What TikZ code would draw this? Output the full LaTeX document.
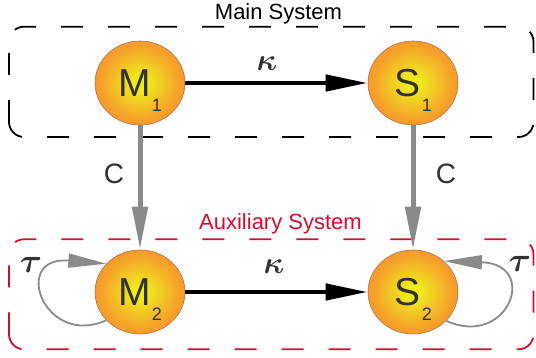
\documentclass[tikz,border=0pt]{standalone}
\usepackage{fontspec}
\setmainfont{Liberation Sans}
\usetikzlibrary{arrows.meta,shapes.geometric}

\definecolor{ballin}{RGB}{238,234,30}
\definecolor{ballmid}{RGB}{246,160,42}
\definecolor{ballout}{RGB}{241,116,44}
\definecolor{ballrim}{RGB}{170,112,90}
\definecolor{textgray}{RGB}{50,50,50}
\definecolor{linkgray}{RGB}{138,138,138}
\definecolor{auxred}{RGB}{204,16,46}
\pgfdeclareradialshading{ballshading}{\pgfpoint{0bp}{0bp}}{color(0bp)=(ballin); color(4bp)=(ballin); color(22bp)=(ballmid); color(46bp)=(ballout); color(60bp)=(ballout)}

\newcommand{\ballname}[2]{\fontsize{39}{39}\selectfont #1\kern1.5pt\smash{\raisebox{-15pt}{\fontsize{18}{18}\selectfont #2}}}
\newcommand{\biggreek}[2]{\scalebox{#1}{\boldmath$#2$}}

\begin{document}
\begin{tikzpicture}[x=1pt, y=1pt, text=textgray,
                    ball/.style={ellipse, draw=ballrim, line width=0.6pt, shading=ballshading,
                                 minimum width=90pt, minimum height=84pt, inner sep=0pt},
                    system box/.style={line width=1.8pt, dash pattern=on 22pt off 25pt, rounded corners=15pt},
                    kappa arrow/.style={line width=4.5pt, -{Triangle[length=42pt,width=16pt]}},
                    coupling arrow/.style={line width=5pt, draw=linkgray, -{Triangle[length=43pt,width=15pt]}},
                    delay arrow/.style={line width=1.8pt, draw=linkgray, -{Triangle[length=38pt,width=14pt]}},
                    title/.style={font=\fontsize{22}{22}\selectfont, anchor=base}]

  \useasboundingbox (0,0) rectangle (536,358);

  % the two systems
  \draw[system box] (9,221) rectangle (533.5,331.3);
  \draw[system box, draw=auxred] (9,8.7) rectangle (533.5,118.7);
  \node[title, text=black] (main) at (278.5,338) {Main System};
  \node[title, text=auxred] (aux) at (280.5,128) {Auxiliary System};

  \node[ball] (M1) at (140,275) {\ballname{M}{1}};
  \node[ball] (S1) [right of=M1, node distance=273pt] {\ballname{S}{1}};
  \node[ball] (M2) [below of=M1, node distance=209pt] {\ballname{M}{2}};
  \node[ball] (S2) [right of=M2, node distance=273pt] {\ballname{S}{2}};

  \node (k1) at (267,294) {\biggreek{3.1}{\kappa}};
  \node (k2) at (274,91) {\biggreek{3.1}{\kappa}};
  \node[font=\fontsize{28}{28}\selectfont] (c1) at (114,184) {C};
  \node[font=\fontsize{28}{28}\selectfont] (c2) at (446,184) {C};
  \node (t1) at (31,93) {\biggreek{3.4}{\tau}};
  \node (t2) at (520,94.5) {\biggreek{3.4}{\tau}};

  \path
    (M1) edge[kappa arrow] (S1)
    (M2) edge[kappa arrow] (S2)
    (M1) edge[coupling arrow] (M2)
    (S1) edge[coupling arrow] (S2);

  % delay loops
  \draw[delay arrow] (M2.-140) .. controls +(-62,-28) and +(-96,8) .. (M2.140);
  \draw[delay arrow] (S2.-41) .. controls +(62,-28) and +(96,-3) .. (S2.45);

\end{tikzpicture}
\end{document}
